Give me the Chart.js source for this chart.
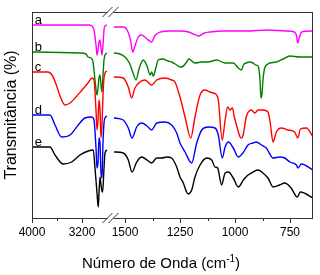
<!DOCTYPE html>
<html>
<head>
<meta charset="utf-8">
<script src="https://cdn.jsdelivr.net/npm/chart.js@4.4.0/dist/chart.umd.min.js"></script>
<style>
    html, body { margin: 0; padding: 0; background: #fff; }
    #wrap { width: 320px; height: 275px; }
</style>
</head>
<body>
<div id="wrap"><canvas id="ftirChart" width="320" height="275"></canvas></div>
<script>
// Espectros FTIR: número de onda (cm-1) y transmitancia (u.a., desplazada)
const aWave = [4000, 3104, 3040, 3008, 2976, 2960, 2944, 2928, 2912, 2896, 2880, 2864, 2848, 2832, 2800,
    1550, 1508, 1490, 1475, 1465, 1455, 1440, 1424, 1400, 1379, 1365, 1350, 1300, 1250, 1210, 1190, 1164, 1140, 1114, 1050, 950, 850, 770, 730, 720, 715, 708, 697, 645];
const aTrans = [193, 193, 192, 188, 173, 163, 168, 176, 178, 170, 163, 173, 188, 192, 193,
    191, 191, 188, 178, 166, 172, 181, 183, 179, 176, 182, 185, 187, 187, 186, 184, 182, 185, 186, 187, 187, 188, 187, 186, 182, 175, 180, 186, 187];

const bWave = [4000, 3232, 3136, 3104, 3056, 3024, 2992, 2960, 2944, 2928, 2912, 2896, 2880, 2864, 2848, 2832, 2800,
    1550, 1523, 1500, 1480, 1465, 1450, 1435, 1417, 1400, 1386, 1379, 1371, 1360, 1349, 1327, 1305, 1288, 1265, 1250, 1242, 1220, 1210, 1182, 1151, 1123, 1083, 1045, 1008, 985, 970, 962, 949, 934, 918, 905, 895, 887, 882, 878, 872, 865, 850, 842, 812, 782, 751, 706, 645];
const bTrans = [166, 165, 164, 161, 160, 156, 138, 123, 130, 140, 143, 133, 126, 143, 158, 163, 165,
    165, 164, 161, 155, 146, 138, 150, 158, 152, 143, 146, 142, 150, 158, 159, 157, 156, 153, 151, 151, 156, 159, 155, 156, 156, 158, 155, 155, 150, 148, 153, 155, 156, 155, 153, 152, 140, 120, 123, 140, 150, 154, 155, 156, 159, 162, 161, 161];

const cWave = [4000, 3744, 3680, 3616, 3552, 3472, 3392, 3296, 3200, 3104, 3040, 3008, 2976, 2960, 2944, 2928, 2912, 2896, 2880, 2864, 2848, 2832, 2800,
    1550, 1508, 1485, 1470, 1455, 1432, 1409, 1379, 1356, 1318, 1288, 1273, 1250, 1227, 1201, 1182, 1159, 1136, 1114, 1099, 1083, 1076, 1058, 1045, 1033, 1023, 1012, 1003, 991, 977, 970, 962, 949, 926, 910, 895, 873, 850, 840, 827, 812, 790, 759, 729, 714, 703, 676, 645];
const cTrans = [146, 146, 143, 134, 122, 113, 115, 121, 128, 135, 140, 138, 108, 88, 98, 118, 108, 80, 93, 123, 140, 145, 147,
    141, 140, 131, 120, 130, 136, 138, 133, 138, 140, 138, 136, 121, 101, 80, 101, 123, 128, 126, 125, 123, 118, 78, 98, 111, 108, 110, 101, 91, 81, 80, 84, 101, 108, 105, 108, 108, 106, 95, 76, 86, 90, 88, 86, 80, 89, 90, 81];

const dWave = [4000, 3712, 3632, 3525, 3392, 3260, 3152, 3045, 3008, 2976, 2960, 2944, 2928, 2912, 2896, 2880, 2864, 2848, 2832, 2800,
    1550, 1508, 1485, 1468, 1447, 1424, 1400, 1379, 1356, 1318, 1288, 1265, 1250, 1227, 1197, 1174, 1151, 1121, 1091, 1076, 1058, 1045, 1030, 1008, 985, 964, 941, 918, 903, 880, 858, 827, 797, 774, 751, 721, 714, 699, 645];
const dTrans = [103, 103, 93, 81, 83, 93, 100, 101, 98, 70, 50, 55, 80, 75, 45, 40, 75, 95, 100, 102,
    100, 98, 90, 80, 91, 95, 92, 88, 95, 96, 93, 85, 75, 66, 55, 75, 88, 91, 90, 83, 60, 71, 76, 70, 61, 65, 73, 75, 76, 73, 70, 60, 61, 60, 56, 53, 50, 54, 48];

const eWave = [4000, 3712, 3632, 3500, 3365, 3232, 3100, 3020, 2992, 2960, 2940, 2928, 2912, 2896, 2880, 2870, 2848, 2832, 2800,
    1550, 1508, 1485, 1468, 1447, 1424, 1400, 1379, 1356, 1333, 1310, 1288, 1265, 1250, 1235, 1220, 1212, 1197, 1182, 1159, 1129, 1106, 1091, 1079, 1061, 1045, 1030, 1008, 985, 962, 941, 918, 895, 873, 850, 827, 797, 774, 745, 717, 703, 645];
const eTrans = [71, 71, 63, 54, 56, 63, 67, 68, 50, 25, 11, 25, 41, 33, 27, 26, 50, 65, 68,
    66, 65, 58, 46, 56, 61, 58, 55, 60, 60, 61, 60, 51, 41, 35, 26, 24, 28, 41, 53, 60, 58, 51, 50, 33, 45, 46, 40, 31, 38, 43, 46, 48, 45, 40, 31, 33, 35, 30, 21, 26, 20];

const traceNames = ['a', 'b', 'c', 'd', 'e'];
const majorTicks = [4000, 3200, 1500, 1250, 1000, 750];
const minorTicks = [3600, 1375, 1125, 875];

// Eje roto: 4000-2800 comprimido, 1550-645 expandido
function toAxis(w) {
    if (w >= 2000) return (4000 - w) / 16;
    return 93 + (1500 - w) / 4.545;
}
const breakAt = (toAxis(2800) + toAxis(1550)) / 2;

function toPoints(waves, trans) {
    const pts = [];
    for (let i = 0; i < waves.length; i++) {
        if (i > 0 && waves[i - 1] >= 2000 && waves[i] < 2000) {
            pts.push({ x: breakAt, y: null }); // hueco del corte
        }
        pts.push({ x: toAxis(waves[i]), y: trans[i] });
    }
    return pts;
}

const series = [
    { name: traceNames[0], wave: aWave, trans: aTrans, color: '#ff00ff' },
    { name: traceNames[1], wave: bWave, trans: bTrans, color: '#008000' },
    { name: traceNames[2], wave: cWave, trans: cTrans, color: '#ff0000' },
    { name: traceNames[3], wave: dWave, trans: dTrans, color: '#0000ff' },
    { name: traceNames[4], wave: eWave, trans: eTrans, color: '#000000' }
];

Chart.defaults.font.family = "'Liberation Sans', Arial, sans-serif";
Chart.defaults.color = '#000';

// Marco, ticks menores, marcas de corte, etiquetas y título del eje x
const framePlugin = {
    id: 'frame',
    afterDraw(chart) {
        const { ctx, chartArea: ca, scales: { x, y } } = chart;
        ctx.save();
        ctx.strokeStyle = '#333';
        ctx.lineWidth = 1;
        ctx.strokeRect(ca.left + 0.5, ca.top + 0.5, ca.right - ca.left - 1, ca.bottom - ca.top);

        minorTicks.forEach(function (w) {
            const px = Math.round(x.getPixelForValue(toAxis(w))) + 0.5;
            ctx.beginPath();
            ctx.moveTo(px, ca.bottom);
            ctx.lineTo(px, ca.bottom + 3);
            ctx.stroke();
        });

        const bx = x.getPixelForValue(breakAt);
        [ca.top, ca.bottom].forEach(function (by) {
            ctx.fillStyle = '#fff';
            ctx.fillRect(bx - 3, by - 1, 6, 3);
            [-3, 3].forEach(function (dx) {
                ctx.beginPath();
                ctx.moveTo(bx + dx - 5, by + 5);
                ctx.lineTo(bx + dx + 5, by - 5);
                ctx.stroke();
            });
        });

        ctx.font = "13px 'Liberation Sans', Arial, sans-serif";
        ctx.fillStyle = '#000';
        ctx.textAlign = 'left';
        ctx.textBaseline = 'alphabetic';
        series.forEach(function (s) {
            ctx.fillText(s.name, x.getPixelForValue(toAxis(3955)), y.getPixelForValue(s.trans[0]) - 1);
        });

        // título x con superíndice
        const main = 'Número de Onda (cm';
        const sup = '-1';
        const close = ')';
        ctx.font = "15px 'Liberation Sans', Arial, sans-serif";
        const wMain = ctx.measureText(main).width;
        const wClose = ctx.measureText(close).width;
        ctx.font = "10px 'Liberation Sans', Arial, sans-serif";
        const wSup = ctx.measureText(sup).width;
        const total = wMain + wSup + wClose;
        let tx = 161 - total / 2;
        const ty = 268;
        ctx.font = "15px 'Liberation Sans', Arial, sans-serif";
        ctx.fillText(main, tx, ty);
        tx += wMain;
        ctx.font = "10px 'Liberation Sans', Arial, sans-serif";
        ctx.fillText(sup, tx, ty - 6);
        tx += wSup;
        ctx.font = "15px 'Liberation Sans', Arial, sans-serif";
        ctx.fillText(close, tx, ty);
        ctx.restore();
    }
};

const ctx = document.getElementById('ftirChart').getContext('2d');
const config = {
    type: 'line',
    data: {
        datasets: series.map(function (s, i) {
            return {
                label: s.name,
                data: toPoints(s.wave, s.trans),
                borderColor: s.color,
                borderWidth: 1.4,
                pointRadius: 0,
                fill: false,
                spanGaps: false,
                cubicInterpolationMode: 'monotone',
                order: series.length - i
            };
        })
    },
    options: {
        responsive: false,
        animation: false,
        layout: {
            padding: { left: 0, right: 7, top: 12, bottom: 0 }
        },
        plugins: {
            legend: { display: false },
            tooltip: { enabled: false }
        },
        scales: {
            x: {
                type: 'linear',
                min: 0,
                max: 281,
                border: { display: false },
                grid: { drawOnChartArea: false, drawTicks: true, tickLength: 5, color: '#333' },
                afterBuildTicks: function (scale) {
                    scale.ticks = majorTicks.map(function (w) { return { value: toAxis(w) }; });
                },
                afterFit: function (scale) { scale.height = 57; },
                ticks: {
                    autoSkip: false,
                    maxRotation: 0,
                    padding: 2,
                    font: { size: 12 },
                    callback: function (value, index) { return String(majorTicks[index]); }
                }
            },
            y: {
                min: 0,
                max: 206,
                border: { display: false },
                grid: { display: false },
                ticks: { display: false },
                afterFit: function (scale) { scale.width = 32; },
                title: {
                    display: true,
                    text: 'Transmitância (%)',
                    font: { size: 16 },
                    padding: { top: 2, bottom: 0 }
                }
            }
        }
    },
    plugins: [framePlugin]
};

const ftirChart = new Chart(ctx, config);
</script>
</body>
</html>
